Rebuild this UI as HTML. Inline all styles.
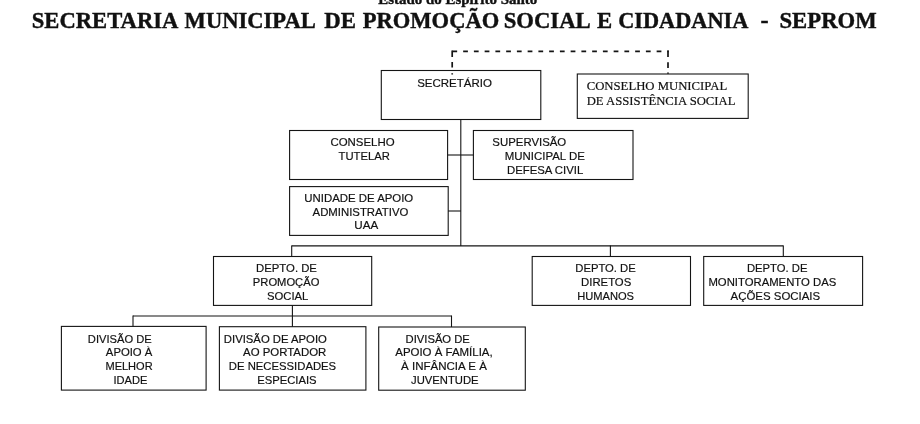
<!DOCTYPE html>
<html lang="pt-BR">
<head>
<meta charset="utf-8">
<title>SEPROM - Organograma</title>
<style>
html,body{margin:0;padding:0;background:#fff;}
body{width:920px;height:424px;overflow:hidden;}
svg{display:block;filter:grayscale(1);}
.b{fill:none;stroke:#141414;stroke-width:1.1;}
.l{fill:none;stroke:#141414;stroke-width:1.1;}
.d{fill:none;stroke:#141414;stroke-width:1.7;}
text{fill:#111;white-space:pre;}
.s{font-family:'Liberation Sans', Arial, sans-serif;font-size:11.2px;stroke:#111;stroke-width:0.18;}
.r{font-family:'Liberation Serif', 'Times New Roman', serif;stroke:#111;stroke-width:0.2;}
.t{stroke:#111;stroke-width:0.4;}
</style>
</head>
<body>
<svg width="920" height="424" viewBox="0 0 920 424">
<rect x="0" y="0" width="920" height="424" fill="#fff"/>
<rect class="b" x="381.3" y="70.5" width="159.5" height="49.0"/>
<rect class="b" x="577.3" y="74.0" width="170.9" height="44.4"/>
<rect class="b" x="289.6" y="130.5" width="158.0" height="49.0"/>
<rect class="b" x="473.4" y="130.5" width="159.6" height="49.0"/>
<rect class="b" x="289.6" y="186.6" width="158.6" height="48.8"/>
<rect class="b" x="213.5" y="256.5" width="158.2" height="48.9"/>
<rect class="b" x="532.2" y="256.5" width="158.3" height="48.9"/>
<rect class="b" x="703.7" y="256.5" width="158.9" height="48.9"/>
<rect class="b" x="61.4" y="326.4" width="144.7" height="63.7"/>
<rect class="b" x="219.4" y="326.7" width="146.5" height="63.4"/>
<rect class="b" x="378.7" y="327.0" width="146.6" height="63.2"/>
<line class="l" x1="460.8" y1="119.5" x2="460.8" y2="245.9"/>
<line class="l" x1="447.6" y1="155.0" x2="473.4" y2="155.0"/>
<line class="l" x1="448.2" y1="211.0" x2="460.8" y2="211.0"/>
<line class="l" x1="291.7" y1="245.9" x2="783.3" y2="245.9"/>
<line class="l" x1="291.7" y1="245.4" x2="291.7" y2="256.5"/>
<line class="l" x1="610.4" y1="245.4" x2="610.4" y2="256.5"/>
<line class="l" x1="783.3" y1="245.4" x2="783.3" y2="256.5"/>
<line class="l" x1="292.4" y1="305.4" x2="292.4" y2="326.7"/>
<line class="l" x1="133.0" y1="316.0" x2="451.5" y2="316.0"/>
<line class="l" x1="133.0" y1="315.5" x2="133.0" y2="326.4"/>
<line class="l" x1="451.5" y1="315.5" x2="451.5" y2="327.0"/>
<line class="d" x1="452.4" y1="51.45" x2="668.7" y2="51.45" stroke-dasharray="4.75 6"/>
<path class="d" d="M452.2 50.6 V57 M452.2 62 V67.6 M452.2 73.2 V74.6"/>
<path class="d" d="M668 50.6 V57 M668 62.3 V67.9 M668 72.6 V73.8"/>
<text class="r t" y="28.3" font-size="22.6" font-weight="bold" xml:space="preserve"><tspan x="31.75" textLength="145.35" lengthAdjust="spacingAndGlyphs">SECRETARIA</tspan> <tspan x="184.60" textLength="129.90" lengthAdjust="spacingAndGlyphs">MUNICIPAL</tspan> <tspan x="324.20" textLength="31.70" lengthAdjust="spacingAndGlyphs">DE</tspan> <tspan x="362.70" textLength="136.60" lengthAdjust="spacingAndGlyphs">PROMOÇÃO</tspan> <tspan x="503.70" textLength="85.80" lengthAdjust="spacingAndGlyphs">SOCIAL</tspan> <tspan x="596.90" textLength="15.20" lengthAdjust="spacingAndGlyphs">E</tspan> <tspan x="618.20" textLength="129.00" lengthAdjust="spacingAndGlyphs">CIDADANIA</tspan>  <tspan x="760.40" textLength="8.10" lengthAdjust="spacingAndGlyphs">-</tspan>  <tspan x="779.50" textLength="97.10" lengthAdjust="spacingAndGlyphs">SEPROM</tspan></text>
<text class="r t" x="378.2" y="4.35" textLength="159.0" lengthAdjust="spacingAndGlyphs" xml:space="preserve" font-size="15.2" font-weight="bold">Estado do Espírito Santo</text>
<text class="s" x="417.15" y="86.75" textLength="74.7" lengthAdjust="spacingAndGlyphs" xml:space="preserve">SECRETÁRIO</text>
<text class="r" x="586.7" y="90.3" textLength="140.5" lengthAdjust="spacingAndGlyphs" xml:space="preserve" font-size="13" font-weight="normal">CONSELHO MUNICIPAL</text>
<text class="r" x="586.7" y="105.2" textLength="148.8" lengthAdjust="spacingAndGlyphs" xml:space="preserve" font-size="13" font-weight="normal">DE ASSISTÊNCIA SOCIAL</text>
<text class="s" x="330.45" y="146.05" textLength="64.2" lengthAdjust="spacingAndGlyphs" xml:space="preserve">CONSELHO</text>
<text class="s" x="338.55" y="159.65" textLength="51.3" lengthAdjust="spacingAndGlyphs" xml:space="preserve">TUTELAR</text>
<text class="s" x="492.35" y="146.25" textLength="73.9" lengthAdjust="spacingAndGlyphs" xml:space="preserve">SUPERVISÃO</text>
<text class="s" x="504.75" y="159.65" textLength="80.1" lengthAdjust="spacingAndGlyphs" xml:space="preserve">MUNICIPAL DE</text>
<text class="s" x="506.95" y="173.55" textLength="76.3" lengthAdjust="spacingAndGlyphs" xml:space="preserve">DEFESA CIVIL</text>
<text class="s" x="304.35" y="202.35" textLength="108.9" lengthAdjust="spacingAndGlyphs" xml:space="preserve">UNIDADE DE APOIO</text>
<text class="s" x="312.55" y="215.65" textLength="95.8" lengthAdjust="spacingAndGlyphs" xml:space="preserve">ADMINISTRATIVO</text>
<text class="s" x="354.35" y="229.35" textLength="23.9" lengthAdjust="spacingAndGlyphs" xml:space="preserve">UAA</text>
<text class="s" x="256.05" y="272.45" textLength="60.9" lengthAdjust="spacingAndGlyphs" xml:space="preserve">DEPTO. DE</text>
<text class="s" x="252.85" y="285.85" textLength="66.5" lengthAdjust="spacingAndGlyphs" xml:space="preserve">PROMOÇÃO</text>
<text class="s" x="266.95" y="299.55" textLength="41.4" lengthAdjust="spacingAndGlyphs" xml:space="preserve">SOCIAL</text>
<text class="s" x="575.25" y="272.45" textLength="60.5" lengthAdjust="spacingAndGlyphs" xml:space="preserve">DEPTO. DE</text>
<text class="s" x="581.05" y="285.85" textLength="50.2" lengthAdjust="spacingAndGlyphs" xml:space="preserve">DIRETOS</text>
<text class="s" x="577.15" y="299.55" textLength="56.9" lengthAdjust="spacingAndGlyphs" xml:space="preserve">HUMANOS</text>
<text class="s" x="746.95" y="272.45" textLength="60.5" lengthAdjust="spacingAndGlyphs" xml:space="preserve">DEPTO. DE</text>
<text class="s" x="708.45" y="285.85" textLength="127.8" lengthAdjust="spacingAndGlyphs" xml:space="preserve">MONITORAMENTO DAS</text>
<text class="s" x="730.55" y="299.55" textLength="89.6" lengthAdjust="spacingAndGlyphs" xml:space="preserve">AÇÕES SOCIAIS</text>
<text class="s" x="87.85" y="342.5" textLength="63.8" lengthAdjust="spacingAndGlyphs" xml:space="preserve">DIVISÃO DE</text>
<text class="s" x="105.85" y="356.25" textLength="46.5" lengthAdjust="spacingAndGlyphs" xml:space="preserve">APOIO À</text>
<text class="s" x="105.45" y="369.95" textLength="47.2" lengthAdjust="spacingAndGlyphs" xml:space="preserve">MELHOR</text>
<text class="s" x="113.45" y="384.05" textLength="33.9" lengthAdjust="spacingAndGlyphs" xml:space="preserve">IDADE</text>
<text class="s" x="223.85" y="342.5" textLength="103.0" lengthAdjust="spacingAndGlyphs" xml:space="preserve">DIVISÃO DE APOIO</text>
<text class="s" x="243.05" y="356.25" textLength="83.2" lengthAdjust="spacingAndGlyphs" xml:space="preserve">AO PORTADOR</text>
<text class="s" x="228.85" y="369.95" textLength="107.3" lengthAdjust="spacingAndGlyphs" xml:space="preserve">DE NECESSIDADES</text>
<text class="s" x="257.15" y="384.05" textLength="59.5" lengthAdjust="spacingAndGlyphs" xml:space="preserve">ESPECIAIS</text>
<text class="s" x="405.55" y="342.5" textLength="64.3" lengthAdjust="spacingAndGlyphs" xml:space="preserve">DIVISÃO DE</text>
<text class="s" x="395.25" y="356.25" textLength="97.4" lengthAdjust="spacingAndGlyphs" xml:space="preserve">APOIO À FAMÍLIA,</text>
<text class="s" x="401.05" y="369.95" textLength="85.8" lengthAdjust="spacingAndGlyphs" xml:space="preserve">À INFÂNCIA E À</text>
<text class="s" x="411.05" y="384.05" textLength="67.6" lengthAdjust="spacingAndGlyphs" xml:space="preserve">JUVENTUDE</text>
</svg>
</body>
</html>
